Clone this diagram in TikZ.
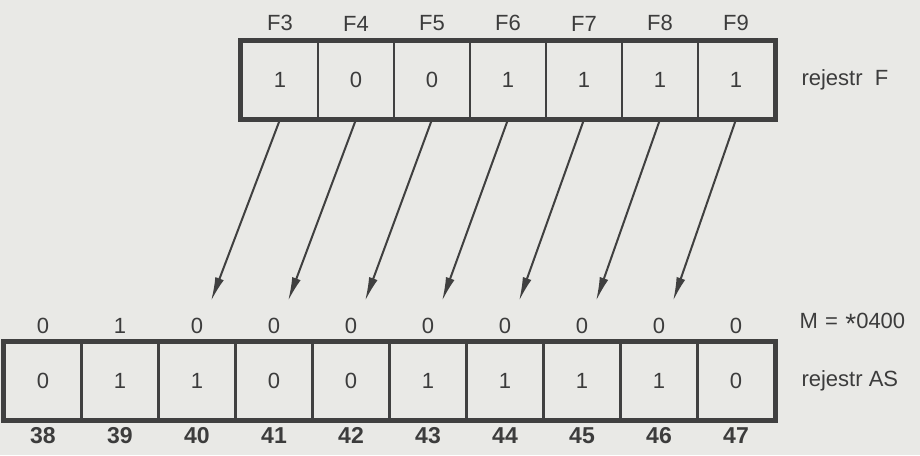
\documentclass[tikz,border=0pt]{standalone}
\usepackage{fontspec}
\setmainfont{Liberation Sans}
\usepackage{tikz}
\usetikzlibrary{arrows.meta, positioning, fit, calc}
\definecolor{paper}{HTML}{E9E9E6}
\definecolor{ink}{HTML}{404040}
\definecolor{print}{HTML}{3C3C3C}

\begin{document}
\begin{tikzpicture}[x=1pt, y=-1pt,
  bitcell/.style={draw=ink, line width=2.8pt, inner sep=0pt, text=print,
                  font=\fontsize{22}{25}\selectfont},
  frame/.style={draw=ink, line width=4.5pt, inner sep=0pt},
  lbl/.style={text=print, font=\fontsize{22}{25}\selectfont},
  idx/.style={text=print, font=\fontsize{23}{26}\selectfont\bfseries},
  transfer/.style={draw=ink, line width=2pt, -{Latex[length=24pt, width=9pt]}}]
\useasboundingbox[fill=paper] (0,0) rectangle (920,455);

% register F
\foreach \n/\v [count=\k from 0] in {3/1,4/0,5/0,6/1,7/1,8/1,9/1} {
  \node[bitcell, minimum width=76pt, minimum height=76pt] (f\n) at (280+76*\k, 80) {\v};
  \node[lbl, above=6pt of f\n] (fl\n) {F\n};
}
\node[frame, fit=(f3)(f9)] (regF) {};
\node[lbl, anchor=west] (nameF) at (798, 80) {rejestr\ \ F};

% register AS
\foreach \n/\v/\m [count=\k from 0] in {38/0/0,39/1/1,40/1/0,41/0/0,42/0/0,43/1/0,44/1/0,45/1/0,46/1/0,47/0/0} {
  \node[bitcell, minimum width=77pt, minimum height=77pt] (as\n) at (43+77*\k, 381) {\v};
  \node[lbl, above=4pt of as\n] (mk\n) {\m};
  \node[idx, below=3pt of as\n] (ix\n) {\n};
  \coordinate (tip\n) at ([xshift=14pt, yshift=40pt]as\n.north);
}
\node[frame, fit=(as38)(as47)] (regAS) {};
\node[lbl, anchor=west] (nameM) at (796, 323) {M\,\,=\,\,\raisebox{-0.45ex}{\fontsize{28}{28}\selectfont *}0400};
\node[lbl, anchor=west] (nameAS) at (798, 381) {rejestr AS};

% transfer F3..F9 -> AS40..AS46
\foreach \n/\t in {3/40,4/41,5/42,6/43,7/44,8/45,9/46}
  \draw[transfer] (f\n.south) -- (tip\t);
\end{tikzpicture}
\end{document}
